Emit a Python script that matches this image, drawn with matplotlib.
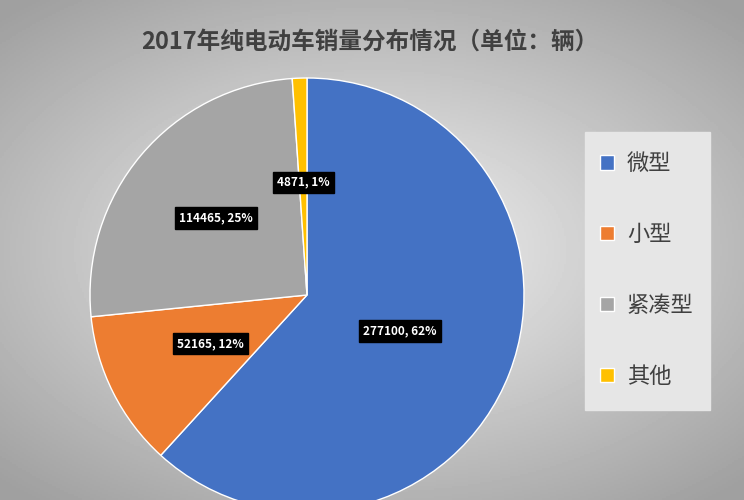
import numpy as np
import matplotlib.pyplot as plt

plt.rcParams['font.family'] = ['Noto Sans CJK SC', 'DejaVu Sans']

categories = ['微型', '小型', '紧凑型', '其他']
values = [277100, 52165, 114465, 4871]
percents = ['62%', '12%', '25%', '1%']
colors = ['#4472C4', '#ED7D31', '#A5A5A5', '#FFC000']
label_dist = [0.46, 0.50, 0.55, 0.52]

fig = plt.figure(figsize=(7.44, 5), dpi=100)

# radial gray background
bg = fig.add_axes([0, 0, 1, 1])
yy, xx = np.mgrid[-1:1:250j, -1:1:372j]
r = np.sqrt((xx * 0.9) ** 2 + yy ** 2)
bg.imshow(0.95 - 0.25 * np.clip(r, 0, 1.3), cmap='gray', vmin=0, vmax=1, aspect='auto', extent=[0, 1, 0, 1])
bg.axis('off')

# legend panel
bg.add_patch(plt.Rectangle((585 / 744, 90 / 500), 125 / 744, 278 / 500, color='#E6E6E6', zorder=2))

cy = 500 - 295
ax = fig.add_axes([(307 - 217) / 744, (cy - 217) / 500, 434 / 744, 434 / 500])
wedges, _ = ax.pie(values, colors=colors, startangle=90, counterclock=False,
                   wedgeprops=dict(edgecolor='white', linewidth=1))
ax.set_xlim(-1, 1)
ax.set_ylim(-1, 1)

total = sum(values)
start = 90
for v, p, d in zip(values, percents, label_dist):
    ang = np.deg2rad(start - v / total * 180)
    start -= v / total * 360
    ax.text(d * np.cos(ang), d * np.sin(ang), f'{v}, {p}', ha='center', va='center',
            color='white', fontsize=8.5, fontweight='bold',
            bbox=dict(boxstyle='square,pad=0.35', fc='black', ec='black'))

fig.text(370 / 744, 1 - 42 / 500, '2017年纯电动车销量分布情况（单位：辆）', ha='center', va='center',
         fontsize=17, fontweight='bold', color='#404040')

leg = fig.legend(wedges, categories, loc='center', bbox_to_anchor=(647 / 744, 1 - 270 / 500),
                 frameon=False, fontsize=16, handlelength=0.6, handleheight=0.6,
                 labelspacing=2.15, handletextpad=0.6)
for t in leg.get_texts():
    t.set_color('#404040')

fig.savefig('out.png', dpi=100)
